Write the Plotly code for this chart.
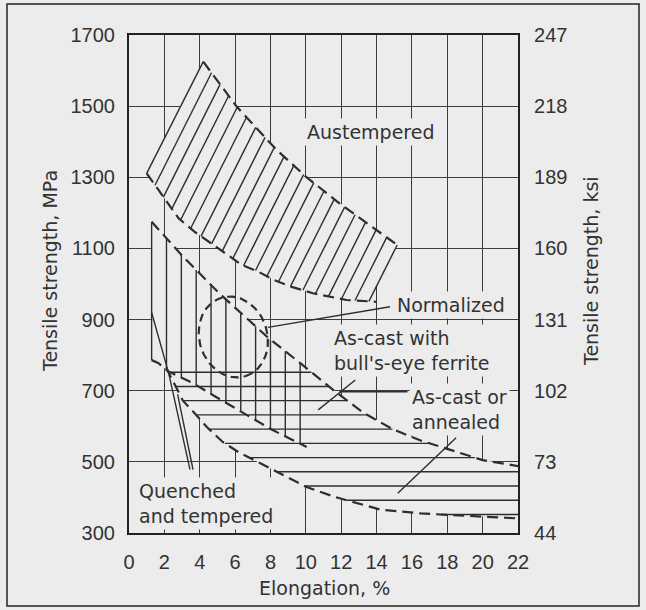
import numpy as np
import plotly.graph_objects as go

BG = "#ececec"
INK = "#2e2e2e"
GRID = "#3c3c3c"

# ---------------- data ----------------
X_TICKS = [0, 2, 4, 6, 8, 10, 12, 14, 16, 18, 20, 22]
MPA_TICKS = [300, 500, 700, 900, 1100, 1300, 1500, 1700]
KSI_LABELS = ["44", "73", "102", "131", "160", "189", "218", "247"]

# Austempered band (diagonal hatching)
AUST_UPPER_X = [4.2, 6.1, 8.35, 10.0, 11.9, 14.2, 15.3]
AUST_UPPER_Y = [1625, 1498, 1377, 1302, 1227, 1143, 1105]
AUST_LOWER_X = [1.0, 2.0, 2.8, 3.7, 4.5, 5.4, 6.4, 7.3, 8.2, 9.2, 10.4, 12.3, 14.0]
AUST_LOWER_Y = [1311, 1240, 1185, 1147, 1119, 1087, 1053, 1035, 1011, 992, 974, 955, 950]
AUST_HATCH_SLOPE = 99.0          # MPa per % elongation
AUST_HATCH_X1300 = [0.89 + 0.81 * k for k in range(21)]  # where each hatch line crosses 1300 MPa

# Upper boundary of quenched & tempered / as-cast bands
C1_X = [1.28, 3.0, 5.1, 7.85, 10.0, 11.6, 13.2, 14.9, 16.5, 18.0, 20.0, 22.0]
C1_Y = [1175, 1080, 974, 850, 765, 700, 640, 592, 560, 537, 505, 488]

# Lower boundary of quenched & tempered band
QT_LOWER_X = [1.28, 1.65, 2.2, 3.6, 4.9, 6.0, 7.1, 8.1, 10.05]
QT_LOWER_Y = [786, 778, 755, 722, 683, 651, 618, 590, 542]
QT_HATCH_X = [1.28 + 0.84 * k for k in range(11)]

# Lower boundary of as-cast / annealed band
AA_LOWER_X = [2.1, 3.05, 3.8, 4.4, 5.3, 6.2, 7.4, 8.5, 10.0, 11.6, 14.2, 16.5, 19.9, 22.0]
AA_LOWER_Y = [765, 672, 632, 598, 556, 527, 497, 468, 430, 402, 366, 355, 346, 341]
AA_TOP = 760
AA_HATCH_Y = [752 - 40 * k for k in range(11)]

# Normalized ellipse (center in data units, semi-axes in screen pixels, tilt deg)
NORM_CENTER = (5.9, 851)
NORM_SEMI = (41, 34)
NORM_TILT = 17

# Leader lines
LEADERS = [
    ([7.85, 14.76], [878, 936]),            # Normalized
    ([10.7, 12.8], [646, 730]),             # As-cast with bull's-eye ferrite
    ([11.9, 15.75], [697, 697]),            # As-cast or annealed (1)
    ([15.2, 18.5], [412, 568]),             # As-cast or annealed (2)
    ([1.28, 2.25, 3.45], [920, 748, 478]),  # Quenched and tempered (1)
    ([2.75, 3.62], [690, 478]),             # Quenched and tempered (2)
]

# ---------------- geometry helpers ----------------
W, H = 646, 610
ML, MR, MT, MB = 129, 128, 35, 77
PX_X = (W - ML - MR) / 22.0
PX_Y = (H - MT - MB) / 1400.0


def cross_line(cx, cy, slope, c):
    xs = np.linspace(cx[0], cx[-1], 4000)
    ys = np.interp(xs, cx, cy)
    i = int(np.argmin(np.abs(ys - (slope * xs + c))))
    return xs[i], ys[i]


def inv(h, cx, cy):
    return float(np.interp(h, cy[::-1], cx[::-1]))


def seg_trace(xs, ys, width=1.3, color=INK, dash="solid"):
    return go.Scatter(x=xs, y=ys, mode="lines", hoverinfo="skip", showlegend=False,
                      line=dict(color=color, width=width, dash=dash))


def mask_trace(xs, ys):
    return go.Scatter(x=xs, y=ys, mode="lines", fill="toself", fillcolor=BG,
                      line=dict(width=0, color=BG), hoverinfo="skip", showlegend=False)


fig = go.Figure()

# ---- Austempered ----
a_lo, a_up = [], []
for x0 in AUST_HATCH_X1300:
    c = 1300 - AUST_HATCH_SLOPE * x0
    a_lo.append(cross_line(AUST_LOWER_X, AUST_LOWER_Y, AUST_HATCH_SLOPE, c))
    a_up.append(cross_line(AUST_UPPER_X, AUST_UPPER_Y, AUST_HATCH_SLOPE, c))
xl = np.linspace(a_lo[0][0], a_lo[-1][0], 200)
xu = np.linspace(a_up[-1][0], a_up[0][0], 200)
mx = list(xl) + list(xu)
my = list(np.interp(xl, AUST_LOWER_X, AUST_LOWER_Y)) + list(np.interp(xu, AUST_UPPER_X, AUST_UPPER_Y))
fig.add_trace(mask_trace(mx + [mx[0]], my + [my[0]]))

# ---- Quenched & tempered mask ----
qx = np.linspace(QT_HATCH_X[0], QT_HATCH_X[-1], 200)
qmx = list(qx) + list(qx[::-1])
qmy = list(np.interp(qx, C1_X, C1_Y)) + list(np.interp(qx[::-1], QT_LOWER_X, QT_LOWER_Y))
fig.add_trace(mask_trace(qmx + [qmx[0]], qmy + [qmy[0]]))

# ---- As-cast / annealed mask ----
xa0 = inv(AA_TOP, AA_LOWER_X, AA_LOWER_Y)
xa1 = inv(AA_TOP, C1_X, C1_Y)
xc = np.linspace(xa1, 22, 200)
xlw = np.linspace(22, xa0, 200)
amx = [xa0] + list(xc) + list(xlw)
amy = [AA_TOP] + list(np.interp(xc, C1_X, C1_Y)) + list(np.interp(xlw, AA_LOWER_X, AA_LOWER_Y))
fig.add_trace(mask_trace(amx + [amx[0]], amy + [amy[0]]))

# ---- hatch lines ----
hx, hy = [], []
for (x1, y1), (x2, y2) in zip(a_lo, a_up):
    hx += [x1, x2, None]
    hy += [y1, y2, None]
fig.add_trace(seg_trace(hx, hy, width=1.4))

vx, vy = [], []
for x in QT_HATCH_X:
    vx += [x, x, None]
    vy += [float(np.interp(x, QT_LOWER_X, QT_LOWER_Y)), float(np.interp(x, C1_X, C1_Y)), None]
fig.add_trace(seg_trace(vx, vy, width=1.4))

ox, oy = [], []
for h in AA_HATCH_Y:
    x1 = inv(h, AA_LOWER_X, AA_LOWER_Y)
    x2 = inv(h, C1_X, C1_Y) if h > C1_Y[-1] else 22
    ox += [x1, x2, None]
    oy += [h, h, None]
fig.add_trace(seg_trace(ox, oy, width=1.4))

# ---- dashed boundaries ----
DASH = "11px,6px"
fig.add_trace(seg_trace(AUST_UPPER_X, AUST_UPPER_Y, width=2.2, dash=DASH))
fig.add_trace(seg_trace(AUST_LOWER_X, AUST_LOWER_Y, width=2.2, dash=DASH))
fig.add_trace(seg_trace(C1_X, C1_Y, width=2.2, dash=DASH))
fig.add_trace(seg_trace(QT_LOWER_X, QT_LOWER_Y, width=2.2, dash=DASH))
fig.add_trace(seg_trace(AA_LOWER_X, AA_LOWER_Y, width=2.2, dash=DASH))

# ---- normalized ellipse ----
t = np.linspace(0, 2 * np.pi, 200)
ang = np.deg2rad(NORM_TILT)
maj = np.array([np.sin(ang), np.cos(ang)])   # screen (right, down)
mnr = np.array([np.cos(ang), -np.sin(ang)])
px = NORM_SEMI[0] * np.cos(t) * maj[0] + NORM_SEMI[1] * np.sin(t) * mnr[0]
py = NORM_SEMI[0] * np.cos(t) * maj[1] + NORM_SEMI[1] * np.sin(t) * mnr[1]
fig.add_trace(seg_trace(NORM_CENTER[0] + px / PX_X, NORM_CENTER[1] - py / PX_Y, width=2.2, dash="8px,5px"))

# ---- leaders ----
for lx, ly in LEADERS:
    fig.add_trace(seg_trace(lx, ly, width=1.4))

# dummy trace for right axis
fig.add_trace(go.Scatter(x=[None], y=[None], yaxis="y2", showlegend=False))

# ---------------- labels ----------------
LFONT = dict(family="DejaVu Sans", size=19, color="#333333")


def label(text, x, y, xanchor="left", align="left"):
    fig.add_annotation(x=x, y=y, text=text, showarrow=False, xanchor=xanchor, yanchor="middle",
                       align=align, font=LFONT, bgcolor=BG, borderpad=2)


label("Austempered", 13.63, 1427, xanchor="center")
label("Normalized", 15.0, 941)
label("As-cast with<br>bull's-eye ferrite", 11.4, 813)
label("As-cast or<br>annealed", 15.85, 648)
label("Quenched<br>and tempered", 0.38, 383)

TFONT = dict(family="DejaVu Sans", size=19, color="#333333")
PW, PH = W - ML - MR, H - MT - MB
for txt, cx, cy, rot in [("Tensile strength, MPa", 50, 271, -90),
                         ("Tensile strength, ksi", 591, 271, -90),
                         ("Elongation, %", 324, 588, 0)]:
    fig.add_annotation(xref="paper", yref="paper", x=(cx - ML) / PW, y=(H - MB - cy) / PH,
                       xanchor="center", yanchor="middle", text=txt, textangle=rot,
                       showarrow=False, font=TFONT)

# outer frame of the figure
fig.add_shape(type="rect", xref="paper", yref="paper",
              x0=(7 - ML) / PW, x1=(639 - ML) / PW,
              y0=(H - MB - 606) / PH, y1=(H - MB - 4) / PH,
              line=dict(color="#222222", width=1.5))

TICKFONT = dict(family="Liberation Sans", size=20, color="#333333")
axis_common = dict(showline=True, linecolor="#222222", linewidth=2.2, ticks="",
                   zeroline=False, tickfont=TICKFONT)
fig.update_layout(
    width=W, height=H, margin=dict(l=ML, r=MR, t=MT, b=MB),
    paper_bgcolor=BG, plot_bgcolor=BG, showlegend=False,
    xaxis=dict(range=[0, 22], tickvals=X_TICKS, showgrid=True, gridcolor=GRID, gridwidth=1.4,
               mirror=True, ticklabelstandoff=10, **axis_common),
    yaxis=dict(range=[300, 1700], tickvals=MPA_TICKS, showgrid=True, gridcolor=GRID, gridwidth=1.4,
               mirror=True, ticklabelstandoff=8, **axis_common),
    yaxis2=dict(range=[300, 1700], tickvals=MPA_TICKS, ticktext=KSI_LABELS, overlaying="y",
                side="right", showgrid=False, ticklabelstandoff=10, **axis_common),
)

fig.write_html("out.html")
